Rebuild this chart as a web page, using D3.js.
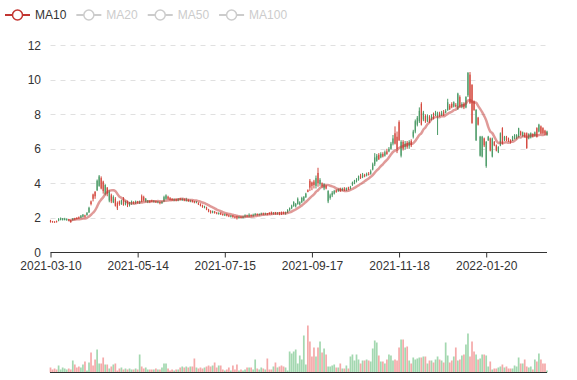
<!DOCTYPE html>
<html><head><meta charset="utf-8">
<script src="https://cdn.jsdelivr.net/npm/d3@7"></script>
<style>html,body{margin:0;padding:0;background:#fff;}svg{display:block;font-family:"Liberation Sans",Arial,sans-serif;}</style>
</head><body><svg id="chart" width="577" height="380"></svg>
<script>
// ---------- data ----------
const startDate = "2021-03-10", endDate = "2022-03-10";
const closedDays = ["2021-04-05","2021-05-03","2021-05-04","2021-05-05","2021-06-14","2021-08-02","2021-08-03","2021-08-04","2021-10-01","2021-12-31","2022-01-03","2022-01-31","2022-02-01","2022-02-02","2022-02-03","2022-02-04"];
const tickLabels = ["2021-03-10","2021-05-14","2021-07-15","2021-09-17","2021-11-18","2022-01-20"];
const yTicks = [0,2,4,6,8,10,12];
const legendNames = ["MA10","MA20","MA50","MA100"];
const activeSeries = ["MA10"];
// [open, close, low, high]
const ohlc = [
[1.84,1.76,1.72,1.88],[1.80,1.74,1.72,1.82],[1.78,1.73,1.71,1.80],[1.80,1.75,1.73,1.84],[1.84,1.94,1.80,1.98],
[1.88,1.97,1.85,2.02],[1.88,1.96,1.84,1.99],[1.87,1.95,1.85,2.00],[1.86,1.94,1.83,1.97],[1.92,1.84,1.80,1.94],
[1.86,1.75,1.71,1.88],[1.86,1.96,1.84,1.98],[1.97,1.90,1.86,2.00],[2.00,1.93,1.90,2.04],[2.04,1.96,1.94,2.08],
[2.00,2.12,1.98,2.16],[2.06,2.18,2.04,2.22],[2.14,2.06,2.02,2.18],[2.16,2.30,2.12,2.32],[2.32,2.58,2.28,2.64],
[2.95,2.80,2.72,3.00],[3.35,3.10,2.95,3.40],[3.50,3.25,3.10,3.55],[3.60,4.15,3.55,4.22],[3.85,4.40,3.80,4.48],
[4.30,3.70,3.65,4.40],[4.10,3.55,3.40,4.15],[3.40,3.90,3.30,3.95],[3.75,3.40,3.25,3.78],[3.00,3.50,2.90,3.60],
[3.30,2.95,2.85,3.40],[2.90,3.20,2.85,3.30],[3.10,2.70,2.65,3.20],[2.85,2.55,2.45,2.95],[2.95,2.80,2.70,3.00],
[2.80,3.00,2.75,3.05],[3.05,2.75,2.70,3.20],[2.80,2.95,2.72,3.00],[2.92,2.72,2.62,3.00],[2.75,2.88,2.65,2.92],
[2.80,2.95,2.75,3.00],[2.92,2.85,2.80,2.96],[2.85,2.95,2.80,3.00],[2.94,2.88,2.82,2.98],[2.86,2.96,2.80,3.00],
[3.25,2.95,2.90,3.35],[3.20,3.00,2.95,3.28],[2.95,3.10,2.90,3.15],[2.90,3.00,2.85,3.03],[2.98,2.90,2.85,3.02],
[3.00,2.94,2.90,3.05],[2.92,2.98,2.88,3.03],[2.96,2.90,2.86,3.00],[2.88,2.94,2.84,2.98],[2.92,2.84,2.78,2.95],
[2.86,2.94,2.80,2.97],[2.95,3.20,2.92,3.28],[3.10,3.30,3.05,3.36],[3.22,3.10,3.05,3.28],[3.15,3.05,3.00,3.20],
[3.10,3.02,2.98,3.14],[3.00,3.08,2.96,3.12],[3.08,3.00,2.95,3.12],[3.00,3.10,2.96,3.14],[3.12,3.04,3.00,3.16],
[3.02,3.10,2.98,3.14],[3.08,3.00,2.96,3.12],[2.98,3.06,2.94,3.16],[3.04,2.96,2.92,3.08],[2.94,3.00,2.90,3.05],
[2.99,2.92,2.88,3.03],[2.95,2.88,2.84,2.98],[2.88,2.94,2.84,2.97],[2.86,2.78,2.74,2.90],[2.80,2.70,2.66,2.84],
[2.72,2.62,2.58,2.76],[2.60,2.66,2.55,2.70],[2.60,2.48,2.44,2.64],[2.48,2.36,2.32,2.52],[2.40,2.30,2.24,2.44],
[2.30,2.38,2.26,2.42],[2.36,2.28,2.24,2.40],[2.30,2.24,2.20,2.34],[2.22,2.28,2.18,2.32],[2.28,2.20,2.16,2.32],
[2.22,2.16,2.12,2.26],[2.14,2.20,2.10,2.24],[2.20,2.12,2.08,2.24],[2.14,2.08,2.04,2.18],[2.06,2.12,2.02,2.16],
[2.12,2.04,2.00,2.16],[2.06,2.00,1.96,2.10],[2.08,1.96,1.90,2.12],[1.98,2.06,1.95,2.10],[2.06,2.00,1.96,2.10],
[2.00,2.08,1.96,2.12],[2.06,2.14,2.02,2.20],[2.14,2.08,2.04,2.18],[2.08,2.18,2.04,2.26],[2.16,2.10,2.06,2.20],
[2.10,2.18,2.06,2.24],[2.16,2.22,2.12,2.28],[2.22,2.16,2.12,2.26],[2.16,2.22,2.12,2.26],[2.20,2.26,2.15,2.30],
[2.26,2.20,2.15,2.30],[2.20,2.26,2.16,2.30],[2.26,2.20,2.15,2.28],[2.30,2.22,2.18,2.32],[2.34,2.24,2.18,2.36],
[2.24,2.30,2.18,2.33],[2.32,2.24,2.18,2.34],[2.24,2.30,2.18,2.32],[2.32,2.24,2.15,2.34],[2.34,2.26,2.16,2.36],
[2.34,2.26,2.20,2.36],[2.26,2.32,2.18,2.36],[2.32,2.45,2.28,2.50],[2.44,2.56,2.40,2.60],[2.56,2.70,2.50,2.76],
[2.68,2.92,2.64,2.96],[2.66,2.80,2.60,2.86],[2.80,3.10,2.76,3.18],[2.78,2.90,2.72,2.96],[2.90,3.15,2.85,3.22],
[3.00,3.20,2.95,3.26],[3.20,3.40,3.15,3.45],[3.60,3.50,3.48,3.65],[4.15,3.75,3.55,4.25],[4.05,3.85,3.60,4.10],
[4.10,3.90,3.70,4.20],[3.85,4.30,3.70,4.45],[4.60,4.00,3.80,4.90],[3.95,4.20,3.85,4.30],[4.00,3.85,3.75,4.05],
[3.70,3.95,3.60,4.00],[3.85,3.70,3.65,3.90],[2.95,3.55,2.85,3.60],[3.15,3.30,3.05,3.40],[3.30,3.45,3.20,3.55],
[3.40,3.55,3.35,3.62],[3.60,3.50,3.45,3.65],[3.55,3.65,3.50,3.70],[3.70,3.55,3.50,3.75],[3.60,3.70,3.55,3.75],
[3.70,3.60,3.55,3.78],[3.62,3.72,3.55,3.76],[3.75,3.65,3.60,3.80],[3.70,3.78,3.65,3.85],[3.90,4.05,3.85,4.10],
[4.00,4.15,3.95,4.20],[4.10,4.20,4.05,4.30],[4.20,4.40,4.15,4.45],[4.45,4.30,4.25,4.55],[4.35,4.50,4.30,4.60],
[4.50,4.40,4.35,4.55],[4.45,4.55,4.40,4.62],[4.55,4.50,4.45,4.65],[4.55,4.70,4.50,4.80],[4.80,5.10,4.75,5.20],
[5.10,5.50,5.00,5.75],[5.30,5.60,5.25,5.70],[5.65,5.40,5.35,5.75],[5.50,5.70,5.45,5.80],[5.70,5.55,5.50,5.80],
[5.60,5.80,5.55,5.90],[5.85,5.70,5.65,6.00],[5.85,6.00,5.80,6.10],[6.00,6.30,5.95,6.40],[6.30,6.60,6.20,6.80],
[6.90,6.30,6.25,7.30],[6.70,6.00,5.75,7.00],[7.55,6.50,6.45,7.65],[5.60,6.40,5.50,6.50],[6.40,6.00,5.90,6.50],
[6.10,6.30,5.95,6.45],[6.35,6.10,6.00,6.45],[6.15,6.40,6.00,6.50],[6.45,6.20,6.10,6.55],[6.70,7.00,6.60,7.10],
[7.00,7.60,6.90,7.70],[7.40,7.80,7.30,7.90],[7.60,8.20,7.50,8.40],[8.60,7.40,7.35,8.70],[7.70,8.10,7.60,8.20],
[7.90,7.60,7.50,8.00],[7.60,7.90,7.55,8.00],[7.85,7.60,7.50,7.95],[7.70,7.90,7.65,8.00],[8.00,7.75,7.70,8.10],
[7.95,8.10,7.90,8.20],[7.90,8.05,6.80,8.15],[8.05,7.90,7.85,8.15],[7.95,8.10,7.90,8.20],[8.15,7.95,7.90,8.25],
[8.10,8.20,8.05,8.30],[8.25,8.70,8.20,8.90],[8.50,8.30,8.25,8.60],[8.60,8.40,8.35,8.70],[8.45,8.70,8.40,8.75],
[8.55,8.45,8.40,8.65],[8.30,9.20,8.25,9.25],[9.00,8.45,8.40,9.10],[8.45,8.60,8.35,8.70],[8.60,8.40,8.30,8.70],
[8.40,9.00,8.35,9.05],[9.10,10.40,9.00,10.45],[10.30,8.65,8.60,10.45],[9.70,7.50,7.45,9.75],[8.75,8.25,8.20,8.80],
[6.50,8.25,6.45,8.30],[7.80,7.40,7.35,7.85],[5.60,6.70,5.55,6.75],[5.55,6.70,5.50,6.75],[6.60,6.20,6.10,6.65],
[5.00,6.40,4.90,6.45],[6.50,6.70,6.45,6.75],[6.60,5.90,5.85,6.65],[5.55,6.60,5.50,6.65],[6.40,6.20,6.15,6.45],
[6.20,5.90,5.85,6.25],[5.80,6.10,5.75,6.15],[6.20,6.90,6.15,6.95],[7.20,6.30,6.25,7.25],[6.50,6.70,6.45,6.75],
[6.70,6.50,6.45,6.75],[6.60,6.45,6.40,6.65],[6.50,6.35,6.30,6.55],[6.50,6.70,6.45,6.75],[6.60,6.80,6.55,6.85],
[6.60,6.80,6.55,6.85],[6.70,7.19,6.65,7.22],[7.00,6.80,6.75,7.05],[6.75,6.95,6.70,7.00],[6.90,6.70,6.65,6.95],
[6.90,6.04,6.00,6.95],[6.60,6.85,6.55,6.90],[6.65,6.90,6.60,6.95],[6.85,6.70,6.65,6.90],[6.75,6.95,6.70,7.00],
[7.20,6.70,6.65,7.25],[7.00,7.40,6.95,7.45],[7.30,6.90,6.85,7.35],[7.20,6.90,6.85,7.25],[7.05,6.90,6.80,7.10],
[6.80,7.00,6.75,7.05]
];
const volumes = [
5,3,4,3,7,3,5,4,3,4, 3,12,8,5,6,5,8,11,2,10, 20,7,13,23,9,9,15,8,8,4, 6,8,9,2,4,5,3,4,3,4,
3,3,4,3,18,6,4,5,3,3, 3,3,4,3,3,5,9,9,4,2, 3,2,3,3,5,6,5,6,5,6, 6,14,5,4,5,4,5,6,7,6,
7,10,5,7,7,3,2,3,5,2, 7,3,8,2,3,2,3,5,5,5, 3,13,4,3,5,4,3,14,3,3, 6,10,5,6,7,6,5,2,21,19,
21,23,9,17,13,37,8,47,31,16, 25,16,25,31,20,24,18,6,6,7, 8,5,5,9,4,4,7,4,16,18, 12,18,13,9,12,12,13,12,11,24,
32,30,17,11,11,9,13,18,17,12, 13,12,25,33,33,25,26,12,9,15, 13,14,15,15,16,16,9,12,12,10, 13,16,13,12,10,30,17,10,12,16,
25,12,13,17,18,28,39,16,31,21, 18,13,14,18,18,17,6,11,3,4, 4,5,6,8,5,6,4,4,4,7, 6,15,9,9,13,6,5,6,3,13,
11,19,13,9,9,2
];

// ---------- categories (trading days) ----------
const categories = [];
{
  const closed = new Set(closedDays);
  let d = new Date(startDate + "T00:00:00Z");
  const end = new Date(endDate + "T00:00:00Z");
  while (d <= end) {
    const wd = d.getUTCDay();
    const s = d.toISOString().slice(0, 10);
    if (wd !== 0 && wd !== 6 && !closed.has(s)) categories.push(s);
    d = new Date(d.getTime() + 86400000);
  }
}
const data = categories.map((c, i) => ({ date: c, o: ohlc[i][0], c: ohlc[i][1], l: ohlc[i][2], h: ohlc[i][3], v: volumes[i] }));
const ma10 = data.map((d, i) => {
  if (i < 9) return null;
  let s = 0; for (let k = i - 9; k <= i; k++) s += data[k].c;
  return { date: d.date, v: s / 10 };
}).filter(Boolean);

// ---------- styles ----------
const upColor = "#4a9a66", downColor = "#d4493e";
const volUp = "#47b262", volDown = "#eb5454";
const maColor = "#c23531";

const svg = d3.select("#chart");
const x = d3.scalePoint().domain(categories).range([50.5, 547]);
const y = d3.scaleLinear().domain([0, 12]).range([252.3, 45.3]);
const yv = d3.scaleLinear().domain([0, 50]).range([372.5, 322.5]);

// grid lines
svg.append("g").selectAll("line").data(yTicks.filter(t => t > 0)).join("line")
  .attr("x1", 50.5).attr("x2", 547).attr("y1", d => Math.round(y(d)) + 0.5).attr("y2", d => Math.round(y(d)) + 0.5)
  .attr("stroke", "#e0e0e0").attr("stroke-dasharray", "5,5");

// y labels
svg.append("g").selectAll("text").data(yTicks).join("text")
  .attr("x", 41).attr("y", d => y(d)).attr("dy", "0.35em").attr("text-anchor", "end")
  .attr("font-size", 12).attr("fill", "#333").text(d => d);

// x axis
const xAxis = d3.axisBottom(x).tickValues(tickLabels).tickSize(5).tickSizeOuter(0).tickPadding(4);
const gx = svg.append("g").attr("transform", "translate(0," + (Math.round(y(0)) + 0.5) + ")").call(xAxis);
gx.select(".domain").attr("stroke", "#333").attr("d", "M50.5,0H547");
gx.selectAll(".tick line").attr("stroke", "#333");
gx.selectAll(".tick text").attr("font-size", 12).attr("fill", "#333").attr("font-family", "Liberation Sans, Arial, sans-serif");

// candles
const bw = 1.2;
const cg = svg.append("g");
cg.selectAll("line").data(data).join("line")
  .attr("x1", d => x(d.date)).attr("x2", d => x(d.date))
  .attr("y1", d => y(d.h)).attr("y2", d => y(d.l))
  .attr("stroke", d => d.c >= d.o ? upColor : downColor).attr("stroke-width", 1);
cg.selectAll("rect").data(data).join("rect")
  .attr("x", d => x(d.date) - bw / 2).attr("width", bw)
  .attr("y", d => y(Math.max(d.o, d.c)))
  .attr("height", d => Math.max(1, Math.abs(y(d.o) - y(d.c))))
  .attr("fill", d => d.c >= d.o ? upColor : downColor);

// MA10 line
svg.append("path").datum(ma10)
  .attr("d", d3.line().x(d => x(d.date)).y(d => y(d.v)).curve(d3.curveMonotoneX))
  .attr("fill", "none").attr("stroke", maColor).attr("stroke-opacity", 0.5).attr("stroke-width", 2.5);

// volume
svg.append("g").selectAll("rect").data(data).join("rect")
  .attr("x", d => x(d.date) - 0.85).attr("width", 1.7)
  .attr("y", d => yv(d.v)).attr("height", d => yv(0) - yv(d.v))
  .attr("fill", d => d.c >= d.o ? volUp : volDown).attr("fill-opacity", 0.5);
svg.append("line").attr("x1", 50).attr("x2", 547).attr("y1", 372.5).attr("y2", 372.5).attr("stroke", "#333");

// legend
const lg = svg.append("g").attr("font-size", 12);
let lx = 5;
legendNames.forEach(name => {
  const on = activeSeries.includes(name);
  const col = on ? maColor : "#ccc";
  const g = lg.append("g").attr("transform", "translate(" + lx + ",15)");
  g.append("line").attr("x1", 0).attr("x2", 25).attr("y1", 0).attr("y2", 0).attr("stroke", col).attr("stroke-width", 2);
  g.append("circle").attr("cx", 12.5).attr("cy", 0).attr("r", 5).attr("fill", "#fff").attr("stroke", col).attr("stroke-width", 1.5);
  const t = g.append("text").attr("x", 30).attr("y", 0).attr("dy", "0.35em").attr("fill", on ? "#333" : "#ccc").text(name);
  lx += 30 + t.node().getComputedTextLength() + 10;
});
</script></body></html>
